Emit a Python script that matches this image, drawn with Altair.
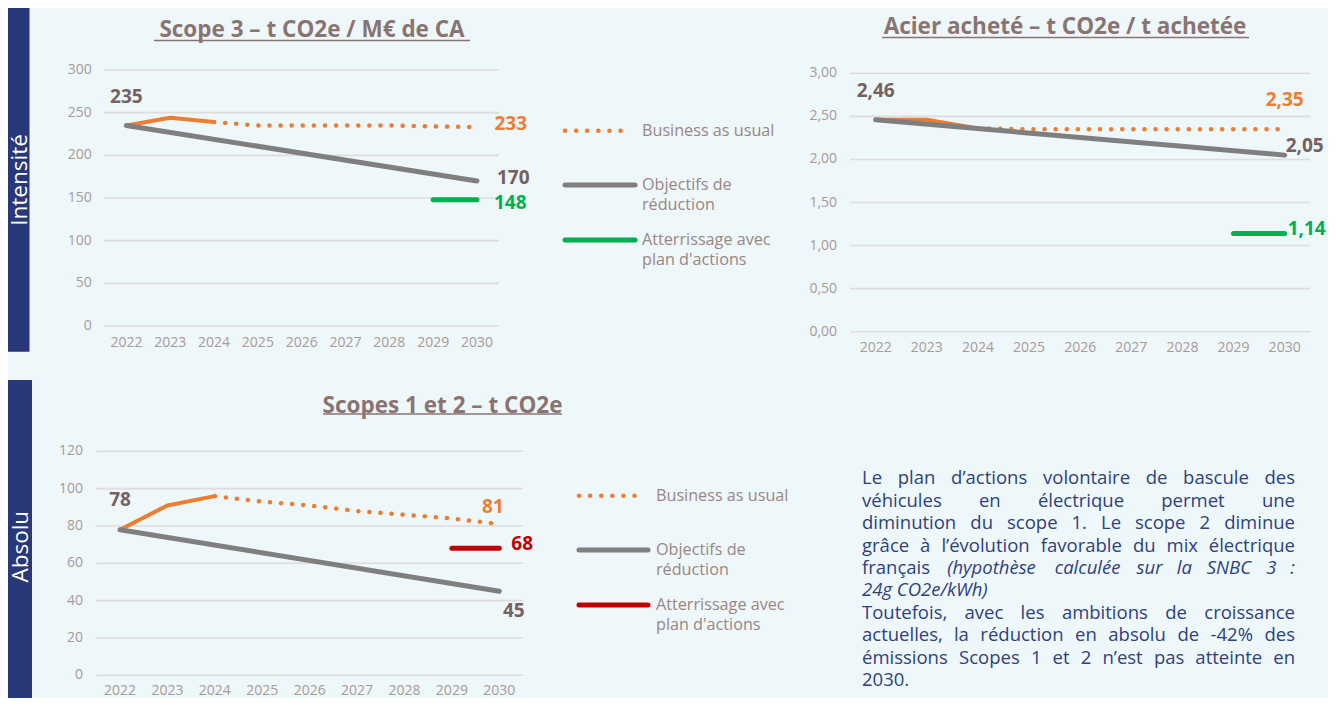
import altair as alt
import pandas as pd

# ---------------- data ----------------
YEARS = [2022, 2023, 2024, 2025, 2026, 2027, 2028, 2029, 2030]
PROJ_YEARS = [2024, 2025, 2026, 2027, 2028, 2029, 2030]
HIST_YEARS = [2022, 2023, 2024]
OBJ_YEARS = [2022, 2030]
LAND_YEARS = [2029, 2030]

A_TITLE = "Scope 3 – t CO2e / M€ de CA"
A_TICKS = [0, 50, 100, 150, 200, 250, 300]
A_BAU = [235, 244, 239]
A_BAU_PROJ = [239, 235, 235, 235, 235, 234, 233]
A_OBJ = [235, 170]
A_LAND = [148, 148]

B_TITLE = "Acier acheté – t CO2e / t achetée"
B_TICKS = [0.0, 0.5, 1.0, 1.5, 2.0, 2.5, 3.0]
B_BAU = [2.46, 2.46, 2.36]
B_BAU_PROJ = [2.36, 2.35, 2.35, 2.35, 2.35, 2.35, 2.35]
B_OBJ = [2.46, 2.05]
B_LAND = [1.14, 1.14]

C_TITLE = "Scopes 1 et 2 – t CO2e"
C_TICKS = [0, 20, 40, 60, 80, 100, 120]
C_BAU = [78, 91, 96]
C_BAU_PROJ = [96, 93, 91, 88, 86, 84, 81]
C_OBJ = [78, 45]
C_LAND = [68, 68]

LEGEND_LABELS = [["Business as usual"], ["Objectifs de", "réduction"], ["Atterrissage avec", "plan d'actions"]]
SIDE_LABELS = ["Intensité", "Absolu"]

PARA_LINES = [
    "Le plan d’actions volontaire de bascule des",
    "véhicules en électrique permet une",
    "diminution du scope 1. Le scope 2 diminue",
    "grâce à l’évolution favorable du mix électrique",
    "français (hypothèse calculée sur la SNBC 3 :",
    "24g CO2e/kWh)",
    "Toutefois, avec les ambitions de croissance",
    "actuelles, la réduction en absolu de -42% des",
    "émissions Scopes 1 et 2 n’est pas atteinte en",
    "2030.",
]
PARA_ITALIC_START = {4: 1, 5: 0}
PARA_RAGGED = {5, 9}

# ---------------- styles ----------------
FONT = "Open Sans"
BG = "#eef7fa"
NAVY = "#283878"
ORANGE = "#ED7D31"
GREY = "#7F7F7F"
GREEN = "#00B050"
RED = "#C00000"
LABEL = "#75615e"
TITLE_C = "#8a7471"
AXIS_C = "#a89a98"
LEGEND_C = "#9a8683"
GRID_C = "#dfdcdc"
PARA_C = "#2f4181"


def fr(v, d):
    return f"{v:.{d}f}".replace(".", ",")


def series(years, vals):
    return pd.DataFrame({"year": years, "v": vals})


def panel(cfg):
    xsc = alt.Scale(domain=[2021.5, 2030.5], range=cfg["xr"], nice=False, zero=False)
    ysc = alt.Scale(domain=[cfg["ticks"][0], cfg["ticks"][-1]], range=cfg["yr"], nice=False, zero=False)

    def X(f):
        return alt.X(f"{f}:Q", scale=xsc, axis=None)

    def Y(f):
        return alt.Y(f"{f}:Q", scale=ysc, axis=None)

    d = cfg["dec"]
    gdf = pd.DataFrame({"t": cfg["ticks"], "lab": [fr(t, d) for t in cfg["ticks"]],
                        "a": 2021.5, "b": 2030.5})
    layers = [
        alt.Chart(gdf).mark_rule(color=GRID_C, strokeWidth=1.6).encode(x=X("a"), x2="b", y=Y("t")),
        alt.Chart(gdf).mark_text(align="right", baseline="middle", dx=cfg["ydx"], font=FONT,
                                 fontSize=14, color=AXIS_C).encode(x=X("a"), y=Y("t"), text="lab:N"),
    ]
    xdf = pd.DataFrame({"year": YEARS, "lab": [str(y) for y in YEARS], "z": cfg["ticks"][0]})
    layers.append(alt.Chart(xdf).mark_text(align="center", baseline="middle", dy=cfg["xdy"], font=FONT,
                                           fontSize=14, color=AXIS_C).encode(x=X("year"), y=Y("z"), text="lab:N"))
    layers.append(alt.Chart(series(HIST_YEARS, cfg["bau"])).mark_line(
        color=ORANGE, strokeWidth=4, strokeCap="round", strokeJoin="round").encode(x=X("year"), y=Y("v")))
    layers.append(alt.Chart(series(PROJ_YEARS, cfg["proj"])).mark_line(
        color=ORANGE, strokeWidth=4.5, strokeDash=[0.1, 11], strokeCap="round", strokeJoin="round"
    ).encode(x=X("year"), y=Y("v")))
    layers.append(alt.Chart(series(OBJ_YEARS, cfg["obj"])).mark_line(
        color=GREY, strokeWidth=5, strokeCap="round").encode(x=X("year"), y=Y("v")))
    layers.append(alt.Chart(series(LAND_YEARS, cfg["land"])).mark_line(
        color=cfg["landc"], strokeWidth=5, strokeCap="round").encode(x=X("year"), y=Y("v")))

    # value labels
    lab_specs = [
        (OBJ_YEARS[0], cfg["obj"][0], LABEL) + cfg["lab_obj0"],
        (PROJ_YEARS[-1], cfg["proj"][-1], ORANGE) + cfg["lab_bau"],
        (OBJ_YEARS[-1], cfg["obj"][-1], LABEL) + cfg["lab_obj1"],
        (LAND_YEARS[-1], cfg["land"][-1], cfg["landc"]) + cfg["lab_land"],
    ]
    for yr, v, col, align, dx, dy in lab_specs:
        ldf = pd.DataFrame({"year": [yr], "v": [v], "t": [fr(v, d)]})
        layers.append(alt.Chart(ldf).mark_text(align=align, baseline="middle", dx=dx, dy=dy, font=FONT,
                                               fontSize=19, fontWeight="bold", color=col)
                      .encode(x=X("year"), y=Y("v"), text="t:N"))
    return alt.layer(*layers)


def deco_text(text, x, y, **kw):
    return alt.Chart(pd.DataFrame({"t": [text]})).mark_text(font=FONT, **kw).encode(
        x=alt.value(x), y=alt.value(y), text="t:N")


def deco_rule(x0, x1, y, **kw):
    return alt.Chart(pd.DataFrame({"k": [0]})).mark_rule(**kw).encode(
        x=alt.value(x0), x2=alt.value(x1), y=alt.value(y))


def title(text, cx, cy, x0, x1, uy):
    return [deco_text(text, cx, cy, align="center", baseline="middle", fontSize=22.5, fontWeight="bold",
                      color=TITLE_C),
            deco_rule(x0, x1, uy, color=TITLE_C, strokeWidth=1.5)]


def legend(x0, x1, ys, tx, landc):
    out = [
        deco_rule(x0, x1 - 4, ys[0], color=ORANGE, strokeWidth=4.5, strokeDash=[0.1, 11], strokeCap="round"),
        deco_rule(x0, x1, ys[1], color=GREY, strokeWidth=5, strokeCap="round"),
        deco_rule(x0, x1, ys[2], color=landc, strokeWidth=5, strokeCap="round"),
    ]
    for lines, yy in zip(LEGEND_LABELS, ys):
        for k, ln in enumerate(lines):
            out.append(deco_text(ln, tx, yy + 19.5 * k, align="left", baseline="middle", fontSize=16.2,
                                 color=LEGEND_C))
    return out


def band(x1, y0, y1, text, tx, ty):
    r = alt.Chart(pd.DataFrame({"k": [0]})).mark_rect(color=NAVY).encode(
        x=alt.value(0), x2=alt.value(x1), y=alt.value(y0), y2=alt.value(y1))
    t = deco_text(text, tx, ty, align="center", baseline="middle", angle=270, fontSize=22.5, color="white")
    return [r, t]


# ---------------- paragraph (justified) ----------------
CW = {
    "a": .556, "b": .613, "c": .476, "d": .613, "e": .561, "f": .339, "g": .546, "h": .614, "i": .253,
    "j": .253, "k": .525, "l": .253, "m": .930, "n": .614, "o": .604, "p": .613, "q": .613, "r": .408,
    "s": .477, "t": .353, "u": .614, "v": .500, "w": .776, "x": .519, "y": .500, "z": .468,
    "à": .556, "â": .556, "é": .561, "è": .561, "ç": .476,
    "L": .520, "S": .550, "B": .632, "C": .632, "N": .754, "T": .553, "O": .778, "W": .920, "E": .550,
    ".": .267, ",": .245, ":": .267, "(": .296, ")": .296, "’": .178, "%": .824, "-": .322, "/": .367,
    " ": .26,
}
PFS = 18.5
PX0, PX1, PY0, PSTEP = 854, 1287, 470.3, 22.4


def tw(s):
    return sum(CW.get(ch, .572 if ch.isdigit() else .55) for ch in s) * PFS


rows = []
for i, line in enumerate(PARA_LINES):
    y = PY0 + i * PSTEP
    it0 = PARA_ITALIC_START.get(i, 10 ** 6)
    if i in PARA_RAGGED:
        rows.append(dict(w=line, px=PX0, py=y, anchor="left", italic=it0 == 0))
        continue
    words = line.split(" ")
    widths = [tw(w) for w in words]
    gap = (PX1 - PX0 - sum(widths)) / (len(words) - 1)
    x = PX0
    for j, (w, wd) in enumerate(zip(words, widths)):
        if j == 0:
            rows.append(dict(w=w, px=PX0, py=y, anchor="left", italic=j >= it0))
        elif j == len(words) - 1:
            rows.append(dict(w=w, px=PX1, py=y, anchor="right", italic=j >= it0))
        else:
            rows.append(dict(w=w, px=x + wd / 2, py=y, anchor="center", italic=j >= it0))
        x += wd + gap
para_df = pd.DataFrame(rows)

para_layers = []
for anchor in ["left", "center", "right"]:
    for ital in [False, True]:
        sub = para_df[(para_df.anchor == anchor) & (para_df.italic == ital)]
        if len(sub) == 0:
            continue
        para_layers.append(
            alt.Chart(sub.reset_index(drop=True)).mark_text(
                align=anchor, baseline="middle", font=FONT, fontSize=PFS,
                fontStyle="italic" if ital else "normal", color=PARA_C
            ).encode(x=alt.X("px:Q", scale=None, axis=None), y=alt.Y("py:Q", scale=None, axis=None),
                     text="w:N"))

# ---------------- panels ----------------
pA = panel(dict(xr=[96.5, 490.9], yr=[318, 62], ticks=A_TICKS, dec=0, ydx=-12.7, xdy=17,
                bau=A_BAU, proj=A_BAU_PROJ, obj=A_OBJ, land=A_LAND, landc=GREEN,
                lab_obj0=("center", 0, -28.5), lab_bau=("left", 17.5, -3),
                lab_obj1=("left", 20, -2.5), lab_land=("left", 17, 3)))
pB = panel(dict(xr=[842.1, 1302.2], yr=[323.7, 65.3], ticks=B_TICKS, dec=2, ydx=-13, xdy=16.5,
                bau=B_BAU, proj=B_BAU_PROJ, obj=B_OBJ, land=B_LAND, landc=GREEN,
                lab_obj0=("center", 0, -29), lab_bau=("center", 0, -29),
                lab_obj1=("left", 1, -9), lab_land=("left", 3, -5)))
pC = panel(dict(xr=[88.3, 515.0], yr=[667.3, 443.3], ticks=C_TICKS, dec=0, ydx=-13.4, xdy=15.2,
                bau=C_BAU, proj=C_BAU_PROJ, obj=C_OBJ, land=C_LAND, landc=RED,
                lab_obj0=("center", 0, -30), lab_bau=("center", -6.4, -17),
                lab_obj1=("left", 3.6, 20), lab_land=("left", 12, -4)))

deco = []
deco += band(21.5, 0, 343.7, SIDE_LABELS[0], 12, 172)
deco += band(24, 372, 690, SIDE_LABELS[1], 12.5, 538.7)
deco += title(A_TITLE, 304, 22, 146, 462, 32.5)
deco += title(B_TITLE, 1057, 19, 874, 1241, 29.5)
deco += title(C_TITLE, 434.5, 398, 315, 554, 406)
deco += legend(557, 627, [122.7, 177, 232], 634, GREEN)
deco += legend(571, 640, [487.7, 542, 597], 648, RED)

chart = alt.layer(pA, pB, pC, *deco, *para_layers).resolve_scale(
    x="independent", y="independent"
).properties(
    width=1320, height=690, padding=0, background=BG,
    autosize=alt.AutoSizeParams(type="none"),
).configure_view(stroke=None)

chart.save("out.html", embed_options={"renderer": "svg", "actions": False})
